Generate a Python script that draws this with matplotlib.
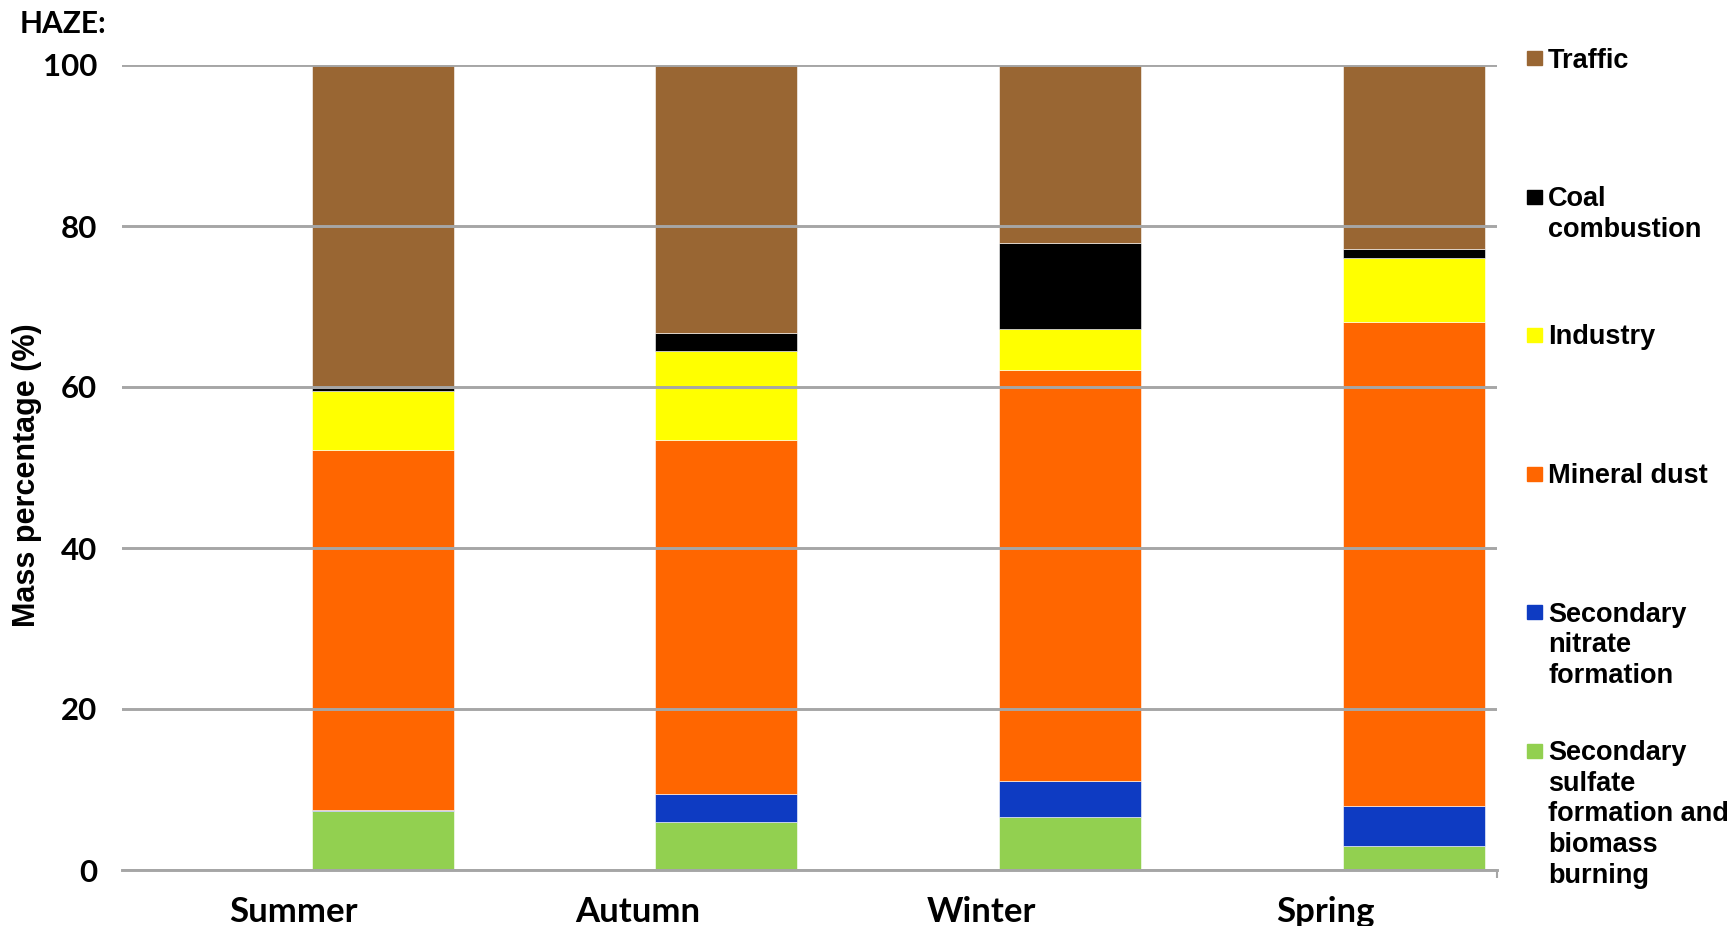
import matplotlib.pyplot as plt
from matplotlib.patches import Rectangle

seasons = ['Summer', 'Autumn', 'Winter', 'Spring']

# source contributions (%), bottom to top of each stack
sulfate_biomass = [7.3, 6.0, 6.6, 3.0]
nitrate = [0.1, 3.5, 4.4, 5.0]
mineral_dust = [44.8, 43.9, 51.1, 60.1]
industry = [7.3, 11.1, 5.1, 7.9]
coal = [0.4, 2.2, 10.7, 1.2]
traffic = [40.1, 33.3, 22.1, 22.8]

sources = [
    ('Secondary\nsulfate\nformation and\nbiomass\nburning', sulfate_biomass, '#92d050'),
    ('Secondary\nnitrate\nformation', nitrate, '#0e3bc2'),
    ('Mineral dust', mineral_dust, '#ff6600'),
    ('Industry', industry, '#ffff00'),
    ('Coal\ncombustion', coal, '#000000'),
    ('Traffic', traffic, '#996633'),
]

W, H = 1735, 926
fig = plt.figure(figsize=(W / 100, H / 100), dpi=100)
ax = fig.add_axes([122 / W, 1 - 870 / H, (1497 - 122) / W, (870 - 65) / H])

x = [i + 0.258 for i in range(len(seasons))]
bottom = [0.0] * len(seasons)
for name, vals, color in sources:
    ax.bar(x, vals, width=0.413, bottom=bottom, color=color,
           edgecolor='white', linewidth=0.4, zorder=1)
    bottom = [b + v for b, v in zip(bottom, vals)]

ax.set_xlim(-0.5, 3.5)
ax.set_ylim(0, 100)
ax.set_yticks(range(0, 101, 20))
ax.set_xticks(range(len(seasons)))
ax.set_xticklabels(seasons)
ax.set_xticks([3.5], minor=True)

ax.grid(axis='y', color='#a6a6a6', linewidth=2.1)
ax.set_axisbelow(False)
for side in ['top', 'right', 'left']:
    ax.spines[side].set_visible(False)
ax.spines['bottom'].set_color('#a6a6a6')
ax.spines['bottom'].set_linewidth(2.1)

ax.tick_params(axis='y', length=0, pad=18)
ax.tick_params(axis='x', which='major', length=0, pad=19)
ax.tick_params(axis='x', which='minor', length=6, width=1.5, color='#a6a6a6')
for lab in ax.get_yticklabels():
    lab.set_fontfamily('Lato')
    lab.set_fontweight('bold')
    lab.set_fontsize(22.5)
for lab in ax.get_xticklabels():
    lab.set_fontfamily('Lato')
    lab.set_fontweight('bold')
    lab.set_fontsize(25)

fig.text(27 / W, 1 - 475 / H, 'Mass percentage (%)', rotation=90,
         ha='center', va='center', family='Liberation Sans',
         weight='bold', fontsize=22)
fig.text(20 / W, 1 - 33 / H, 'HAZE:', ha='left', va='baseline',
         family='Lato', weight='bold', fontsize=21.5)

# legend, top entry first, first lines evenly spaced
line_h = 30.7
for k, (name, vals, color) in enumerate(reversed(sources)):
    yc = 58 + k * 138.5
    fig.patches.append(Rectangle((1527 / W, 1 - (yc + 7) / H), 15 / W, 14 / H,
                                 transform=fig.transFigure, color=color))
    for j, line in enumerate(name.split('\n')):
        fig.text(1548 / W, 1 - (yc + 9.5 + j * line_h) / H, line,
                 ha='left', va='baseline', family='Liberation Sans',
                 weight='bold', fontsize=19.5)

fig.savefig('out.png', dpi=100)
